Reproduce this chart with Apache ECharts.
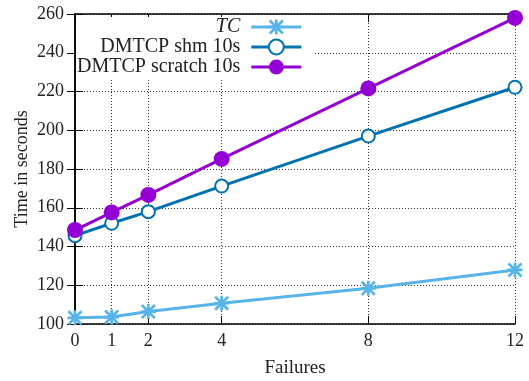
<!DOCTYPE html>
<html>
<head>
<meta charset="utf-8">
<script src="https://cdn.jsdelivr.net/npm/echarts@6/dist/echarts.min.js"></script>
<style>
html,body{margin:0;padding:0;background:#fff;}
#c{width:529px;height:381px;}
</style>
</head>
<body>
<div id="c"></div>
<script>
const failures = [0, 1, 2, 4, 8, 12];
const xTicks = [0, 1, 2, 4, 8, 12];
const tcTimes = [103.2, 103.6, 106.4, 110.7, 118.4, 127.9];
const shmTimes = [145.6, 152.0, 158.0, 171.2, 197.0, 222.2];
const scratchTimes = [148.5, 157.6, 166.6, 185.2, 221.6, 258.0];
const seriesNames = ['TC', 'DMTCP shm 10s', 'DMTCP scratch 10s'];

const FONT = '"Liberation Serif", "DejaVu Serif", serif';
const asterisk = 'path://M41 0L59 0L59 100L41 100Z M0 41L100 41L100 59L0 59Z M0 12.7L12.7 0L100 87.3L87.3 100Z M87.3 0L100 12.7L12.7 100L0 87.3Z';

function pairs(vals) { return failures.map((f, i) => [f, vals[i]]); }

const chart = echarts.init(document.getElementById('c'), null, {renderer: 'canvas'});
const gridLine = {show: true, lineStyle: {color: '#333', type: [1, 2], width: 1}};
const axisLine = {show: true, lineStyle: {color: '#000', width: 1.5}};
chart.setOption({
  animation: false,
  backgroundColor: '#fff',
  textStyle: {fontFamily: FONT},
  grid: {left: 75, right: 14, top: 14, bottom: 57, containLabel: false, outerBoundsMode: 'none'},
  legend: {
    orient: 'vertical',
    left: 76, top: 17,
    padding: [0, 11, 2, 1],
    itemGap: 0,
    itemWidth: 50, itemHeight: 18.7,
    align: 'right',
    backgroundColor: '#fff',
    data: seriesNames,
    lineStyle: {width: 3},
    formatter: function (n) { return n === 'TC' ? '{i|TC}' : '{n|' + n + '}'; },
    textStyle: {
      fontFamily: FONT, fontSize: 20, color: '#222',
      rich: {
        i: {fontFamily: FONT, fontSize: 20, fontStyle: 'italic', width: 163, align: 'right', padding: [0, 6, 0, 0], lineHeight: 18.7, color: '#222'},
        n: {fontFamily: FONT, fontSize: 20, width: 163, align: 'right', padding: [0, 6, 0, 0], lineHeight: 18.7, color: '#222'}
      }
    }
  },
  xAxis: [{
    type: 'value', min: 0, max: 12, position: 'bottom',
    name: 'Failures', nameLocation: 'middle', nameGap: 35,
    nameTextStyle: {fontFamily: FONT, fontSize: 19, color: '#222'},
    axisLine: axisLine,
    axisTick: {show: true, inside: true, length: 8, customValues: xTicks, lineStyle: {color: '#000', width: 1}},
    axisLabel: {customValues: xTicks, fontFamily: FONT, fontSize: 18, color: '#222', margin: 8},
    splitLine: gridLine
  }, {
    type: 'value', min: 0, max: 12, position: 'top',
    axisLine: axisLine,
    axisTick: {show: true, inside: true, length: 8, customValues: xTicks, lineStyle: {color: '#000', width: 1}},
    axisLabel: {show: false},
    splitLine: {show: false}
  }],
  yAxis: [{
    type: 'value', min: 100, max: 260, interval: 20, position: 'left',
    name: 'Time in seconds', nameLocation: 'middle', nameGap: 44, nameRotate: 90,
    nameMoveOverlap: false,
    nameTextStyle: {fontFamily: FONT, fontSize: 18, color: '#222'},
    axisLine: axisLine,
    axisTick: {show: true, inside: true, length: 8, lineStyle: {color: '#000', width: 1}},
    axisLabel: {fontFamily: FONT, fontSize: 18, color: '#222', margin: 11},
    splitLine: gridLine
  }, {
    type: 'value', min: 100, max: 260, interval: 20, position: 'right',
    axisLine: axisLine,
    axisTick: {show: true, inside: true, length: 8, lineStyle: {color: '#000', width: 1}},
    axisLabel: {show: false},
    splitLine: {show: false}
  }],
  series: [{
    name: 'TC', type: 'line', data: pairs(tcTimes),
    symbol: asterisk, symbolSize: 15,
    lineStyle: {color: '#56b4e9', width: 3},
    itemStyle: {color: '#56b4e9'}
  }, {
    name: 'DMTCP shm 10s', type: 'line', data: pairs(shmTimes),
    symbol: 'emptyCircle', symbolSize: 13,
    lineStyle: {color: '#0072b2', width: 3},
    itemStyle: {color: '#0072b2', borderColor: '#0072b2', borderWidth: 3}
  }, {
    name: 'DMTCP scratch 10s', type: 'line', data: pairs(scratchTimes),
    symbol: 'circle', symbolSize: 16,
    lineStyle: {color: '#9400d3', width: 3},
    itemStyle: {color: '#9400d3'}
  }]
});
</script>
</body>
</html>
